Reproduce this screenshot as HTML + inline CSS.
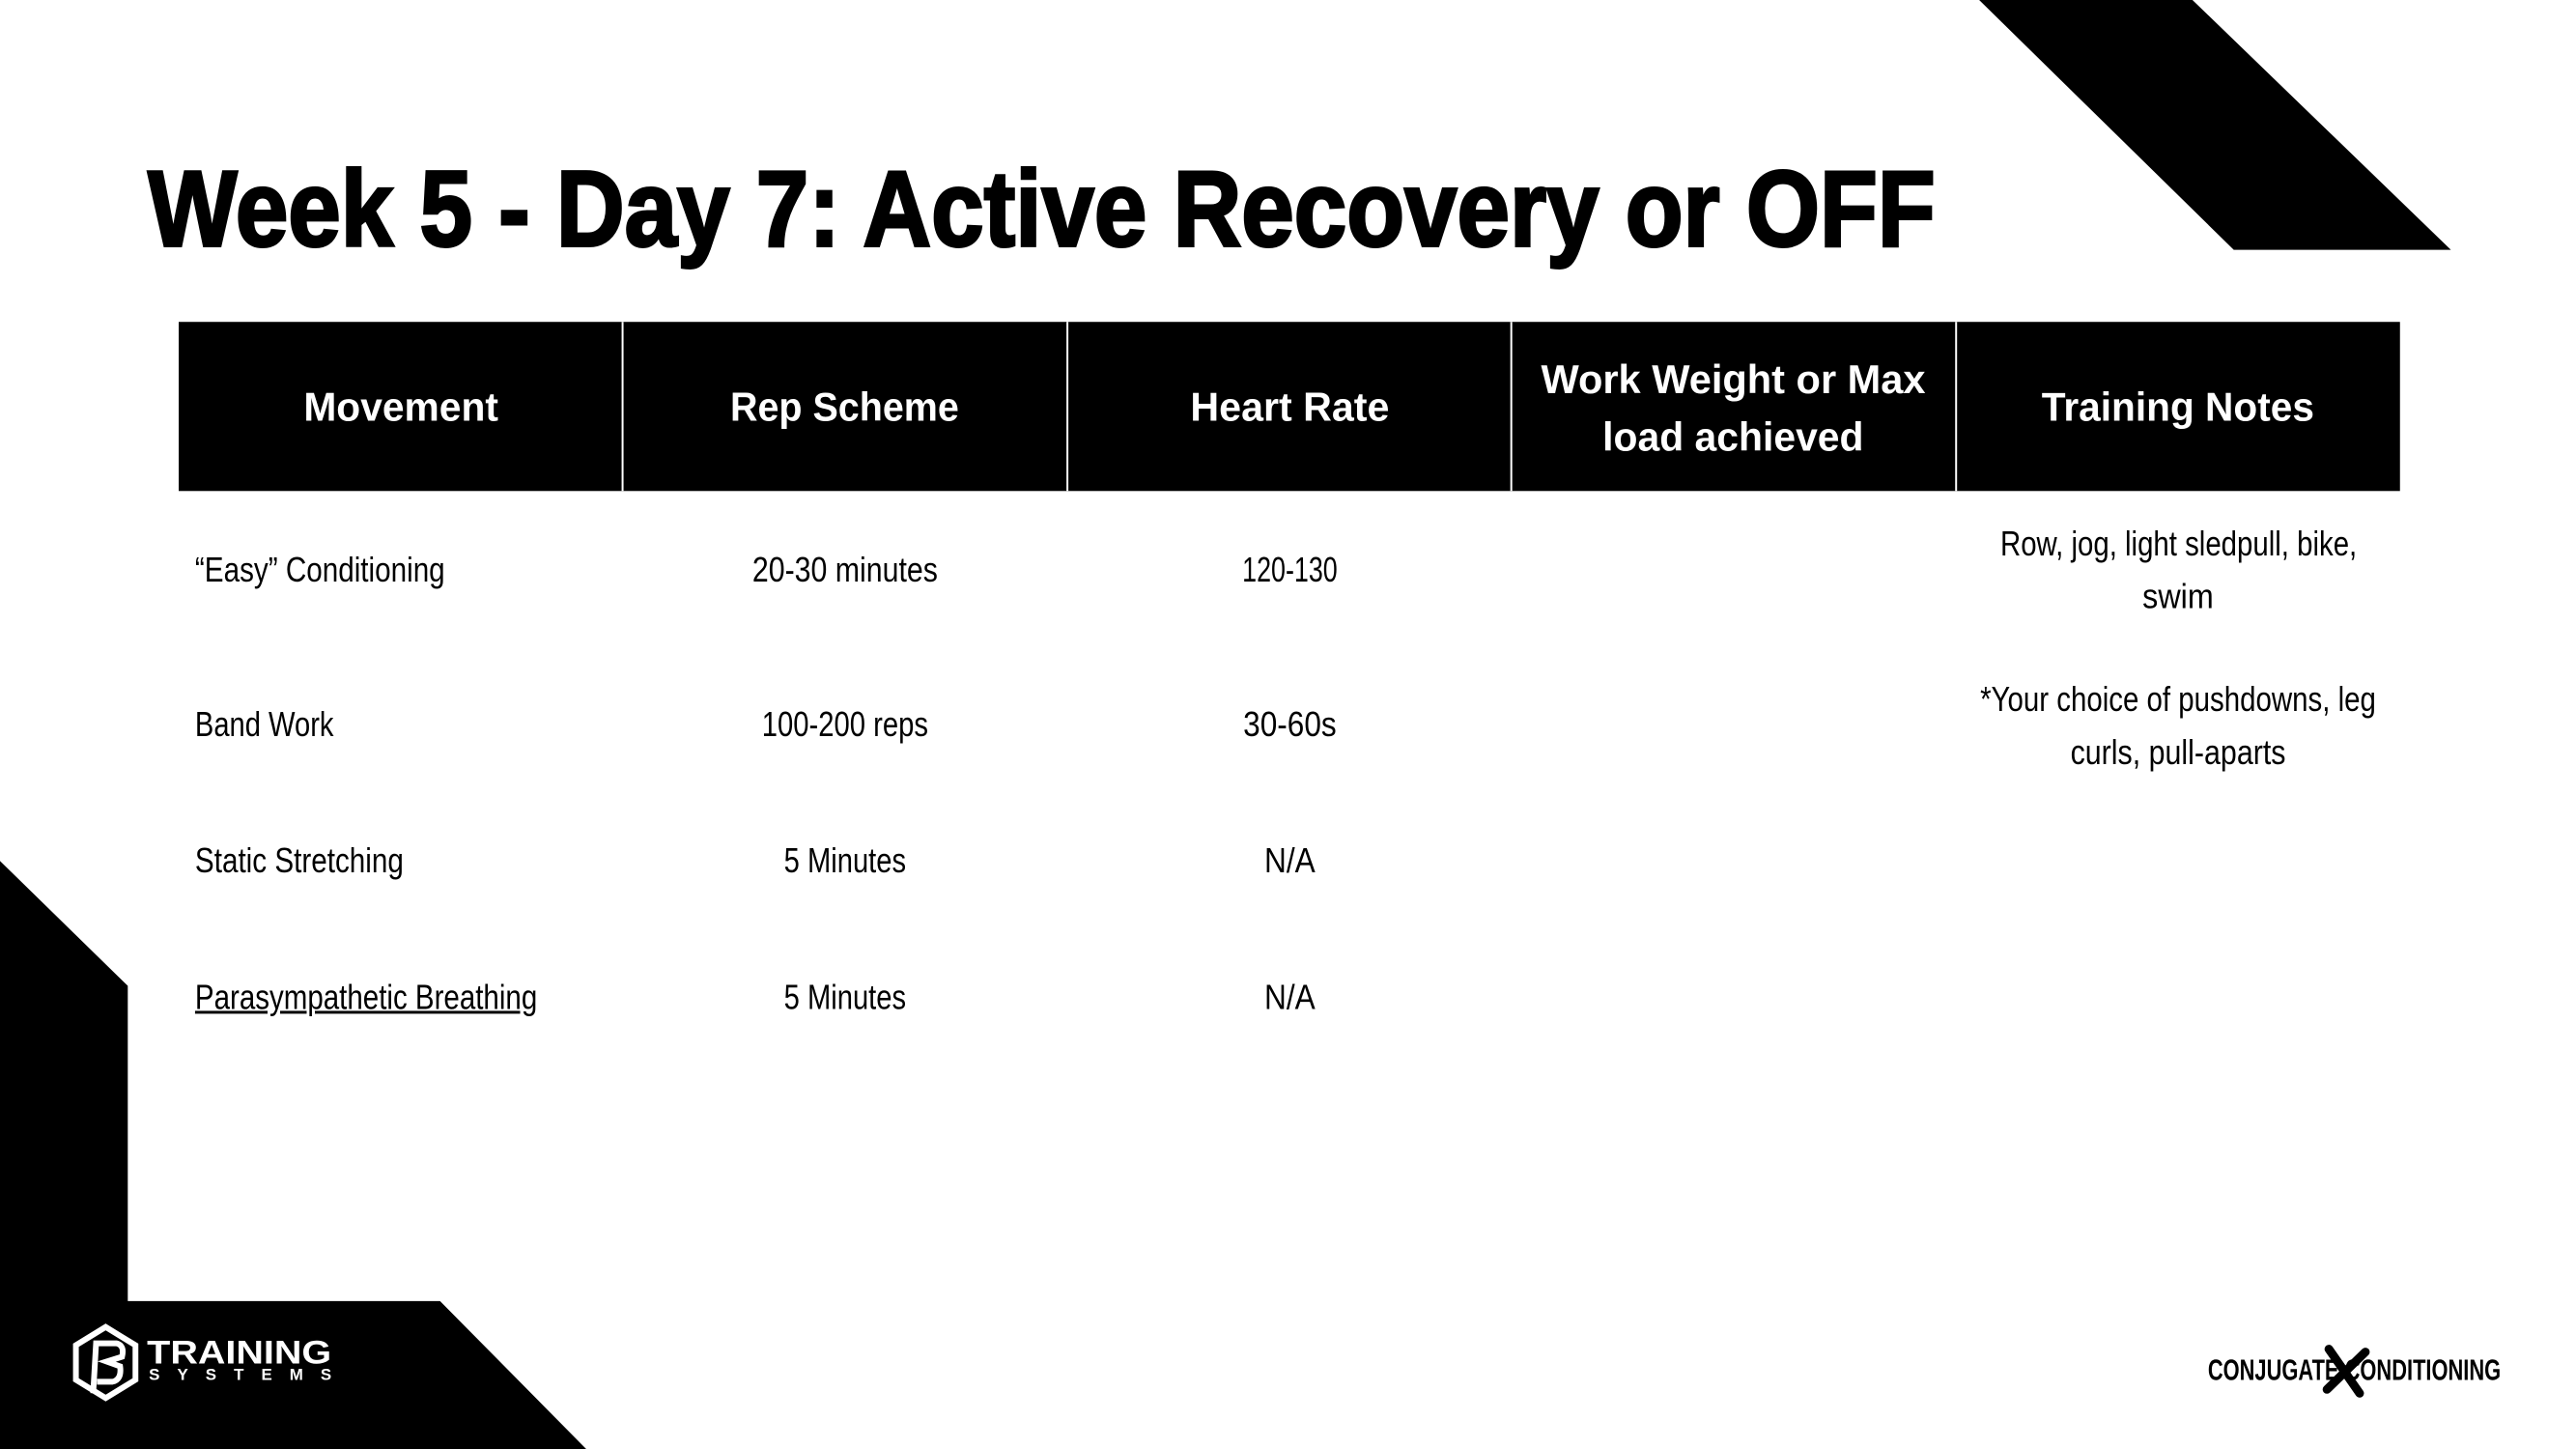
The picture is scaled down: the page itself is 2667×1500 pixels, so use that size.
<!DOCTYPE html>
<html><head><meta charset="utf-8">
<style>
html,body{margin:0;padding:0;background:#fff;}
#page{position:relative;width:2667px;height:1500px;overflow:hidden;background:#fff;font-family:"Liberation Sans",sans-serif;}
#wrap{position:absolute;left:0;top:0;width:2700px;height:1520px;transform:scale(0.9947);transform-origin:0 0;}
.t{position:absolute;white-space:nowrap;transform-origin:0 0;line-height:1;}
.title{font-weight:bold;font-size:112px;color:#000;-webkit-text-stroke:3px #000;}
.hd{font-weight:bold;font-size:42px;color:#fff;}
.bd{font-size:36px;color:#000;}
</style></head>
<body>
<div id="page">
<div id="wrap">
<svg width="2700" height="1520" style="position:absolute;left:0;top:0">
  <polygon points="2060,0 2282,0 2551,260 2325,260" fill="#000"/>
  <polygon points="0,896 133,1026 133,1354 458,1354 622,1520 0,1520" fill="#000"/>
  <rect x="186" y="335" width="2312" height="176" fill="#000"/>
  <g stroke="#fff" stroke-width="2">
    <line x1="648" y1="335" x2="648" y2="511"/><line x1="1111" y1="335" x2="1111" y2="511"/>
    <line x1="1573" y1="335" x2="1573" y2="511"/><line x1="2036" y1="335" x2="2036" y2="511"/>
  </g>
  <g fill="none" stroke="#fff" stroke-width="6">
    <polygon points="110,1381 141,1400 141,1436 110,1455 79,1436 79,1400"/>
    <path d="M97,1450 L100,1398 L121,1398 Q130,1400 127,1412 L111,1417 L125,1422 Q127,1436 117,1438 L101,1438"/>
  </g>
  <text x="153" y="1419" fill="#fff" font-family="Liberation Sans" font-weight="bold" font-size="34" textLength="192" lengthAdjust="spacingAndGlyphs">TRAINING</text>
  <text x="155" y="1436" fill="#fff" font-family="Liberation Sans" font-weight="bold" font-size="17" textLength="190" lengthAdjust="spacing">SYSTEMS</text>
  <text x="2298" y="1436" fill="#000" font-family="Liberation Sans" font-weight="bold" font-size="31" textLength="305" lengthAdjust="spacingAndGlyphs">CONJUGATE  CONDITIONING</text>
  <g stroke="#000" stroke-width="9" stroke-linecap="round">
    <line x1="2424" y1="1404" x2="2456" y2="1450"/><line x1="2462" y1="1407" x2="2422" y2="1446"/>
  </g>
</svg>

<span class="t title" data-x="154" data-y="218" data-w="1860" data-a="l">Week 5 - Day 7: Active Recovery or OFF</span>

<span class="t hd" data-x="417" data-y="424" data-w="203">Movement</span>
<span class="t hd" data-x="879" data-y="424" data-w="238">Rep Scheme</span>
<span class="t hd" data-x="1342" data-y="424" data-w="207">Heart Rate</span>
<span class="t hd" data-x="1804" data-y="395" data-w="400">Work Weight or Max</span>
<span class="t hd" data-x="1804" data-y="455" data-w="272">load achieved</span>
<span class="t hd" data-x="2267" data-y="424" data-w="284">Training Notes</span>

<span class="t bd" data-x="203" data-y="593" data-w="260" data-a="l">“Easy” Conditioning</span>
<span class="t bd" data-x="879" data-y="593" data-w="193">20-30 minutes</span>
<span class="t bd" data-x="1342" data-y="593" data-w="99">120-130</span>
<span class="t bd" data-x="2267" data-y="566" data-w="371">Row, jog, light sledpull, bike,</span>
<span class="t bd" data-x="2267" data-y="621" data-w="74">swim</span>

<span class="t bd" data-x="203" data-y="754" data-w="144" data-a="l">Band Work</span>
<span class="t bd" data-x="879" data-y="754" data-w="173">100-200 reps</span>
<span class="t bd" data-x="1342" data-y="754" data-w="97">30-60s</span>
<span class="t bd" data-x="2267" data-y="728" data-w="412">*Your choice of pushdowns, leg</span>
<span class="t bd" data-x="2267" data-y="783" data-w="224">curls, pull-aparts</span>

<span class="t bd" data-x="203" data-y="896" data-w="217" data-a="l">Static Stretching</span>
<span class="t bd" data-x="879" data-y="896" data-w="127">5 Minutes</span>
<span class="t bd" data-x="1342" data-y="896" data-w="53">N/A</span>

<span class="t bd" data-x="203" data-y="1038" data-w="356" data-a="l" style="text-decoration:underline">Parasympathetic Breathing</span>
<span class="t bd" data-x="879" data-y="1038" data-w="127">5 Minutes</span>
<span class="t bd" data-x="1342" data-y="1038" data-w="53">N/A</span>
</div>
</div>
<script>
document.querySelectorAll('.t').forEach(function(el){
  var w0=el.offsetWidth,h=el.offsetHeight;
  var w=+el.dataset.w,x=+el.dataset.x,y=+el.dataset.y;
  var s=w/w0;
  el.style.transform='scaleX('+s+')';
  el.style.left=(el.dataset.a==='l'?x:x-w/2)+'px';
  el.style.top=(y-h/2)+'px';
});
</script>
</body></html>
